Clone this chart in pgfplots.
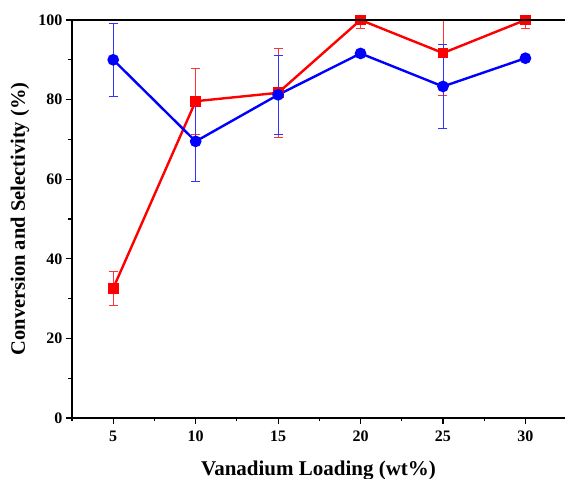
\documentclass[border=0pt]{standalone}
\usepackage{pgfplots}
\pgfplotsset{compat=1.18}
\usepackage{fontspec}
\setmainfont{Liberation Serif}
\begin{document}
\begin{tikzpicture}[x=1pt,y=1pt]
\begin{axis}[
  name=ax,
  scale only axis,
  width=493pt, height=398pt,
  xmin=2.5, xmax=32.4, ymin=0, ymax=100,
  axis x line*=bottom, axis y line*=left,
  axis line style={line width=1.3pt, -},
  xtick={5,10,15,20,25,30},
  minor xtick={2.5,7.5,12.5,17.5,22.5,27.5},
  ytick={0,20,40,60,80,100},
  minor ytick={10,30,50,70,90},
  tick align=outside,
  major tick length=6pt, minor tick length=3.5pt,
  every tick/.style={line width=1.1pt, black},
  /pgf/number format/assume math mode=true,
  ticklabel style={font=\fontsize{16}{16}\selectfont\bfseries},
  xticklabel style={yshift=-3pt},
  every axis x label/.style={at={(axis description cs:0.5,0)}, yshift=-53pt, anchor=center,
     font=\fontsize{21}{21}\selectfont\bfseries},
  every axis y label/.style={at={(axis description cs:0,0.5)}, xshift=-52pt, anchor=center, rotate=90,
     font=\fontsize{20.5}{20.5}\selectfont\bfseries},
  xlabel={Vanadium Loading (wt\%)},
  ylabel={Conversion and Selectivity (\%)},
  clip=true,
]
\addplot[red, line width=2.4pt, mark=square*, mark size=4.2pt,
  error bars/.cd, y dir=both, y explicit,
  error bar style={line width=0.6pt, red!80},
  error mark options={rotate=90, mark size=4.5pt, line width=0.6pt, red!80}]
  coordinates {
  (5,32.6) +- (0,4.3)
  (10,79.6) +- (0,8.2)
  (15,81.7) +- (0,11.1)
  (20,100) +- (0,2.2)
  (25,91.7) +- (0,10.5)
  (30,100) +- (0,2.1)
  };
\addplot[blue, line width=2.4pt, mark=*, mark size=4.6pt,
  error bars/.cd, y dir=both, y explicit,
  error bar style={line width=0.6pt, blue!80},
  error mark options={rotate=90, mark size=4.5pt, line width=0.6pt, blue!80}]
  coordinates {
  (5,90) +- (0,9.1)
  (10,69.5) +- (0,10.1)
  (15,81.2) +- (0,10.0)
  (20,91.6) +- (0,0)
  (25,83.3) +- (0,10.5)
  (30,90.4) +- (0,0)
  };
\end{axis}
\draw[line width=1.3pt] (ax.north west) -- (ax.north east);
\pgfresetboundingbox
\path ([xshift=-72pt,yshift=-61pt]ax.south west) rectangle ([yshift=20pt]ax.north east);
\end{tikzpicture}
\end{document}
